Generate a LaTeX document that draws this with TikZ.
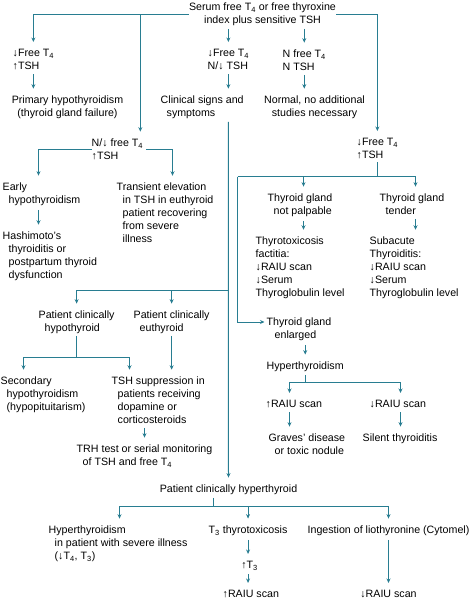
\documentclass[tikz,border=0pt]{standalone}
\usepackage{fontspec}
\setmainfont{Liberation Sans}
\usetikzlibrary{arrows.meta, calc}
\definecolor{flowline}{HTML}{287D91}
\newcommand{\Tfour}{T\textsubscript{4}}
\newcommand{\Tthree}{T\textsubscript{3}}
\newcommand{\ind}{\hspace*{6bp}}

\begin{document}
\begin{tikzpicture}[x=1bp, y=-1bp,
  font=\fontsize{10.7}{13}\selectfont,
  txt/.style={inner sep=0pt, align=left, anchor=base west},
  ctr/.style={inner sep=0pt, align=center, anchor=base},
  link/.style={draw=flowline, line width=1bp},
  arr/.style={link, -{Stealth[length=4.5bp, width=4bp]}, shorten >=7bp},
  harr/.style={link, -{Stealth[length=4.5bp, width=4bp]}, shorten >=2bp}
]
  \useasboundingbox (-0.5,-0.5) rectangle (470.5,599.5);

  \node[ctr] (serum) at (262,23) {Serum free \Tfour{} or free thyroxine\\index plus sensitive TSH};
  \node[txt] (lowft) at (12,69) {↓Free \Tfour\\↑TSH};
  \node[txt] (midft) at (207,69) {↓Free \Tfour\\N/↓ TSH};
  \node[txt] (nft) at (282,70) {N free \Tfour\\N TSH};
  \node[ctr] (primary) at (67,116) {Primary hypothyroidism\\(thyroid gland failure)};
  \node[txt] (clinical) at (160,116) {Clinical signs and\\\ind symptoms};
  \node[ctr] (normal) at (314,116) {Normal, no additional\\studies necessary};
  \node[txt] (nfree) at (91,159) {N/↓ free \Tfour\\↑TSH};
  \node[txt] (dft) at (356,158) {↓Free \Tfour\\↑TSH};
  \node[txt] (early) at (2,203) {Early\\\ind hypothyroidism};
  \node[txt] (transient) at (116,242) {Transient elevation\\\ind in TSH in euthyroid\\\ind patient recovering\\\ind from severe\\\ind illness};
  \node[txt] (notpalp) at (267,214) {Thyroid gland\\\ind not palpable};
  \node[txt] (tender) at (379,214) {Thyroid gland\\\ind tender};
  \node[txt] (hashi) at (2,278) {Hashimoto’s\\\ind thyroiditis or\\\ind postpartum thyroid\\\ind dysfunction};
  \node[txt] (factitia) at (255,296) {Thyrotoxicosis\\factitia:\\↓RAIU scan\\↓Serum\\Thyroglobulin level};
  \node[txt] (subacute) at (369,296) {Subacute\\Thyroiditis:\\↓RAIU scan\\↓Serum\\Thyroglobulin level};
  \node[txt] (pchypo) at (38,331) {Patient clinically\\\ind hypothyroid};
  \node[txt] (pceu) at (133,331) {Patient clinically\\\ind euthyroid};
  \node[txt] (enlarged) at (266,338) {Thyroid gland\\\hspace*{8bp}enlarged};
  \node[txt] (hyperthy) at (266,369) {Hyperthyroidism};
  \node[txt] (secondary) at (0,410) {Secondary\\\ind hypothyroidism\\\ind (hypopituitarism)};
  \node[txt] (tshsupp) at (111,423) {TSH suppression in\\\ind patients receiving\\\ind dopamine or\\\ind corticosteroids};
  \node[txt] (raiuup) at (265,407) {↑RAIU scan};
  \node[txt] (raiudn) at (369,407) {↓RAIU scan};
  \node[txt] (graves) at (268,454) {Graves’ disease\\\ind or toxic nodule};
  \node[txt] (silent) at (362,441) {Silent thyroiditis};
  \node[txt] (trh) at (76,465) {TRH test or serial monitoring\\\ind of TSH and free \Tfour};
  \node[ctr] (hyper) at (228,492) {Patient clinically hyperthyroid};
  \node[txt] (illness) at (48,559) {Hyperthyroidism\\\ind in patient with severe illness\\\ind (↓\Tfour, \Tthree)};
  \node[txt] (tthree) at (208,533) {\Tthree{} thyrotoxicosis};
  \node[ctr] (upt) at (249,568) {↑\Tthree};
  \node[txt] (raiuhi) at (222,597) {↑RAIU scan};
  \node[ctr] (ingest) at (388,533) {Ingestion of liothyronine (Cytomel)};
  \node[ctr] (raiulo) at (388,597) {↓RAIU scan};

  \coordinate (nfreetop) at ([xshift=-3bp]nfree.north east);
  \coordinate (earlytop) at ([xshift=36bp]early.north west);
  \coordinate (transtop) at ([xshift=56bp]transient.north west);
  \coordinate (nptop) at ([xshift=36bp]notpalp.north west);
  \coordinate (tdtop) at ([xshift=36bp]tender.north west);
  \coordinate (rupt) at ([xshift=24bp]raiuup.north west);
  \coordinate (rdnt) at ([xshift=31bp]raiudn.north west);
  \coordinate (sectop) at ([xshift=23bp]secondary.north west);
  \coordinate (tshtop) at ([xshift=18bp]tshsupp.north west);
  \coordinate (trhtop) at ([xshift=68bp]trh.north west);
  \coordinate (illtop) at ([xshift=71bp]illness.north west);
  \coordinate (patsplit) at (228,290);
  \coordinate (tsplit) at (237,176);
  \coordinate (hsplit) at (306,382);
  \coordinate (hyposplit) at (77,357);
  \coordinate (bsplit) at (213,506);

  \draw[arr] (serum.west) -| (lowft.north);
  \draw[arr] (serum.west -| nfreetop) -- (nfreetop);
  \draw[arr] (serum.east) -| (dft.north);
  \draw[arr, shorten <=3bp] (serum.south -| midft.north) -- (midft.north);
  \draw[arr, shorten <=3bp] (serum.south -| nft.north) -- (nft.north);

  \draw[arr, shorten <=4bp] (lowft.south) -- (lowft.south |- primary.north);
  \draw[arr, shorten <=4bp] (midft.south) -- (midft.south |- clinical.north);
  \draw[arr, shorten <=4bp] (nft.south) -- (nft.south |- normal.north);

  \draw[arr, shorten <=3bp] (clinical.south -| midft.south) -- (hyper.north);
  \draw[arr] (patsplit) -| (pchypo.north);
  \draw[arr] (patsplit -| pceu.north) -- (pceu.north);

  \draw[arr] (nfree.west) -| (earlytop);
  \draw[arr, shorten <=3bp] (nfree.east) -| (transtop);
  \draw[arr, shorten <=4bp] (earlytop |- early.south) -- (earlytop |- hashi.north);

  \draw[link, shorten <=3bp] (dft.south) -- (dft.south |- tsplit);
  \draw[arr] (tsplit) -| (tdtop);
  \draw[arr] (tsplit -| nptop) -- (nptop);
  \draw[harr] (tsplit) |- ([yshift=16.5bp]enlarged.base west);
  \draw[arr, shorten <=4bp] (nptop |- notpalp.south) -- (nptop |- factitia.north);
  \draw[arr, shorten <=4bp] (tdtop |- tender.south) -- (tdtop |- subacute.north);
  \draw[arr, shorten <=4bp] (enlarged.south -| hyperthy.north) -- (hyperthy.north);
  \draw[link, shorten <=3bp] (hyperthy.south) -- (hyperthy.south |- hsplit);
  \draw[arr] (hsplit) -| (rupt);
  \draw[arr] (hsplit) -| (rdnt);
  \draw[arr, shorten <=4bp] (rupt |- raiuup.south) -- (rupt |- graves.north);
  \draw[arr, shorten <=4bp] (rdnt |- raiudn.south) -- (rdnt |- silent.north);

  \draw[link, shorten <=2bp] (pchypo.south) -- (pchypo.south |- hyposplit);
  \draw[arr] (hyposplit) -| (sectop);
  \draw[arr] (hyposplit) -| (tshtop);
  \draw[arr, shorten <=2bp] (pceu.south) -- (pceu.south |- tshsupp.north);
  \draw[arr, shorten <=4bp] (trhtop |- tshsupp.south) -- (trhtop);

  \draw[link, shorten <=3bp] (hyper.south -| bsplit) -- (bsplit);
  \draw[arr] (bsplit) -| (illtop);
  \draw[arr] (bsplit) -| (tthree.north);
  \draw[arr] (bsplit) -| (ingest.north);
  \draw[arr, shorten <=4bp] (tthree.south) -- (tthree.south |- upt.north);
  \draw[arr, shorten <=4bp] (tthree.south |- upt.south) -- (tthree.south |- raiuhi.north);
  \draw[arr, shorten <=4bp] (ingest.south) -- (raiulo.north);
\end{tikzpicture}
\end{document}
